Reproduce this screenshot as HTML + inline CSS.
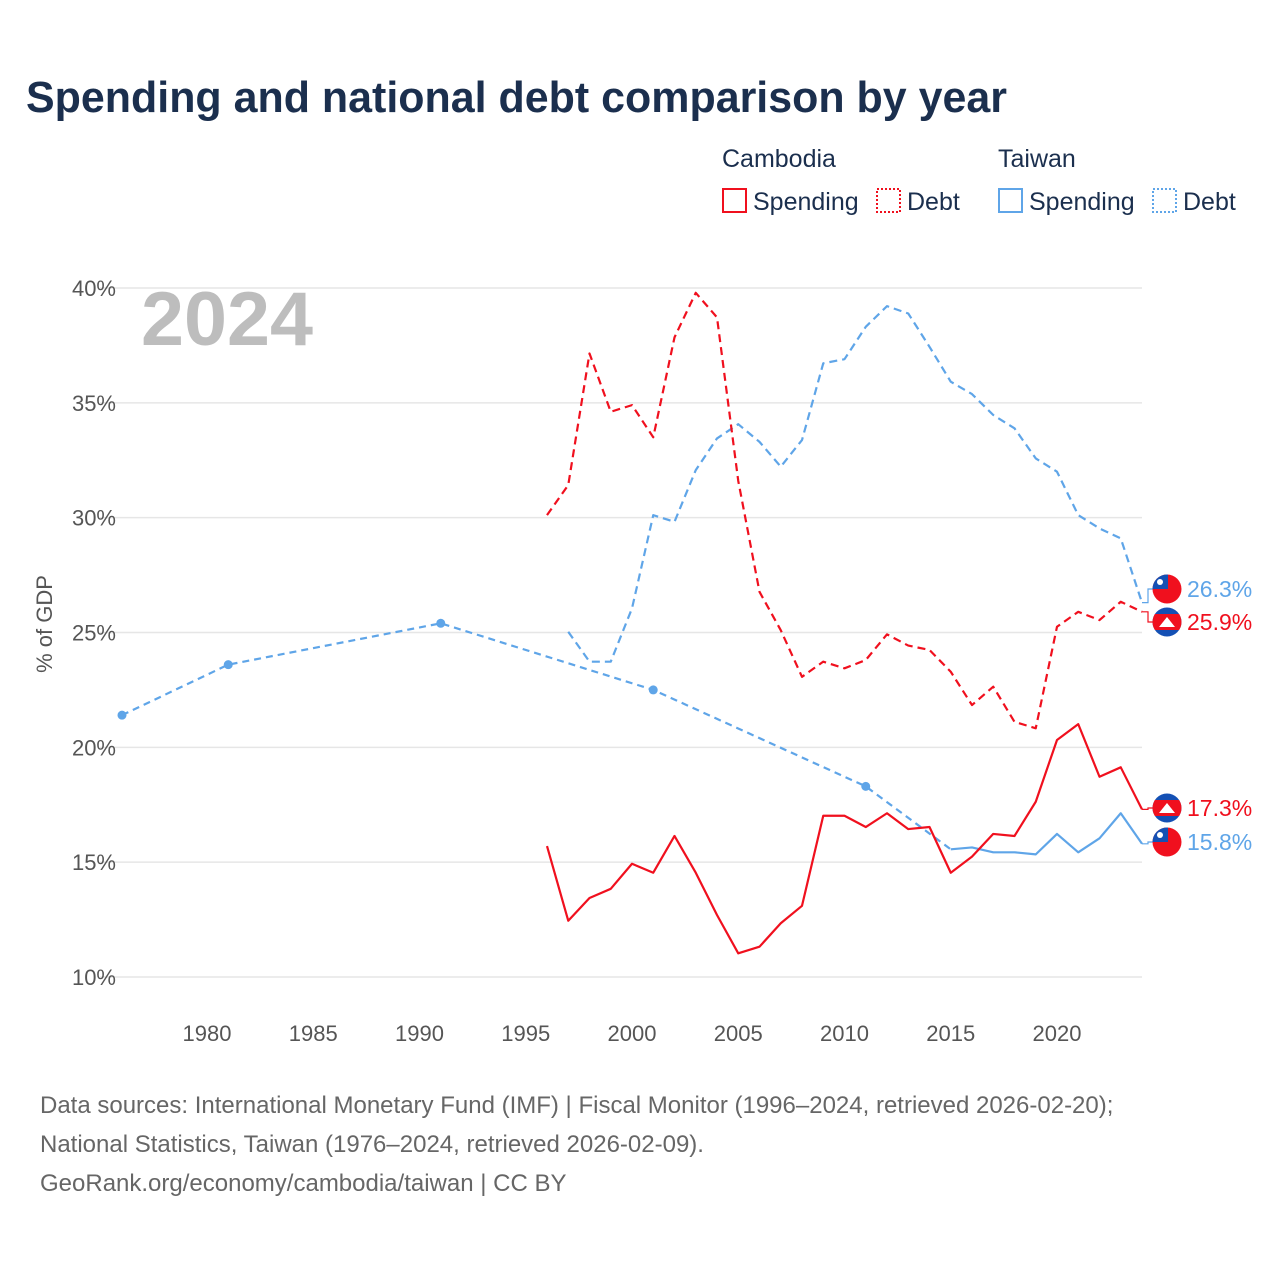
<!DOCTYPE html>
<html><head><meta charset="utf-8"><style>
body{margin:0;background:#fff;font-family:"Liberation Sans",sans-serif;}
svg text{font-family:"Liberation Sans",sans-serif;}
</style></head><body>
<svg id="c" width="1280" height="1280" viewBox="0 0 1280 1280" xmlns="http://www.w3.org/2000/svg">
<rect width="1280" height="1280" fill="#fff"/>
<text x="26" y="112" font-size="44" font-weight="bold" fill="#1b2f4e" textLength="981" lengthAdjust="spacingAndGlyphs">Spending and national debt comparison by year</text>
<g font-size="25" fill="#1b2f4e">
<text x="722" y="167">Cambodia</text>
<text x="998" y="167">Taiwan</text>
<g><rect x="723" y="189" width="23" height="23" fill="none" stroke="#f0101e" stroke-width="2"/><text x="753" y="210">Spending</text></g>
<g><rect x="877" y="189" width="23" height="23" fill="none" stroke="#f0101e" stroke-width="2" stroke-dasharray="2,2"/><text x="907" y="210">Debt</text></g>
<g><rect x="999" y="189" width="23" height="23" fill="none" stroke="#5fa5e8" stroke-width="2"/><text x="1029" y="210">Spending</text></g>
<g><rect x="1153" y="189" width="23" height="23" fill="none" stroke="#5fa5e8" stroke-width="2" stroke-dasharray="2,2"/><text x="1183" y="210">Debt</text></g>
</g>
<text x="141" y="345" font-size="76" font-weight="bold" fill="#bdbdbd" textLength="172" lengthAdjust="spacingAndGlyphs">2024</text>
<text transform="translate(52,624) rotate(-90)" text-anchor="middle" font-size="22" fill="#555">% of GDP</text>
<g id="grid"></g><g id="series"></g><g id="ends"></g>
<g font-size="24" fill="#666">
<text x="40" y="1113">Data sources: International Monetary Fund (IMF) | Fiscal Monitor (1996–2024, retrieved 2026-02-20);</text>
<text x="40" y="1152">National Statistics, Taiwan (1976–2024, retrieved 2026-02-09).</text>
<text x="40" y="1191">GeoRank.org/economy/cambodia/taiwan | CC BY</text>
</g>
</svg>
<script>
const yTicks=[10,15,20,25,30,35,40];
const xTicks=[1980,1985,1990,1995,2000,2005,2010,2015,2020];
const khYears=[1996,1997,1998,1999,2000,2001,2002,2003,2004,2005,2006,2007,2008,2009,2010,2011,2012,2013,2014,2015,2016,2017,2018,2019,2020,2021,2022,2023,2024];
const khSpending=[15.7,12.45,13.44,13.84,14.93,14.54,16.14,14.54,12.7,11.03,11.32,12.34,13.1,17.02,17.02,16.53,17.13,16.44,16.53,14.54,15.24,16.23,16.14,17.63,20.32,21.01,18.72,19.13,17.3];
const khDebt=[30.11,31.42,37.15,34.61,34.9,33.5,37.85,39.79,38.72,31.6,26.77,25.1,23.07,23.73,23.44,23.8,24.92,24.43,24.24,23.29,21.84,22.64,21.11,20.83,25.25,25.9,25.54,26.34,25.9];
const twDebtYears=[1997,1998,1999,2000,2001,2002,2003,2004,2005,2006,2007,2008,2009,2010,2011,2012,2013,2014,2015,2016,2017,2018,2019,2020,2021,2022,2023,2024];
const twDebt=[25.03,23.73,23.73,26.05,30.11,29.82,32.07,33.45,34.07,33.3,32.22,33.38,36.72,36.9,38.31,39.21,38.89,37.44,35.92,35.38,34.47,33.89,32.58,32.0,30.11,29.53,29.1,26.3];
const twSparseYears=[1976,1981,1991,2001,2011,2015];
const twSparse=[21.4,23.6,25.4,22.5,18.3,15.56];
const twSpendYears=[2015,2016,2017,2018,2019,2020,2021,2022,2023,2024];
const twSpending=[15.56,15.64,15.43,15.43,15.34,16.23,15.43,16.04,17.13,15.8];
const RED='#f0101e',BLUE='#5fa5e8',NS='http://www.w3.org/2000/svg';
const X=y=>122+(y-1976)*21.25, Y=v=>977-(v-10)*22.967;
function mk(t,a,p){const e=document.createElementNS(NS,t);for(const k in a)e.setAttribute(k,a[k]);p.appendChild(e);return e;}
const grid=document.getElementById('grid');
yTicks.forEach(v=>{
 const l=mk('line',{x1:100,x2:1142,y1:Y(v),y2:Y(v),stroke:'#e6e6e6','stroke-width':1.5},grid);
 
 
 const t=mk('text',{x:116,y:Y(v)+8,'text-anchor':'end','font-size':22,fill:'#555'},grid);t.textContent=v+'%';
 
 
});
xTicks.forEach(y=>{
 const t=mk('text',{x:X(y),y:1041,'text-anchor':'middle','font-size':22,fill:'#555'},grid);t.textContent=y;
 
 
});
const S=document.getElementById('series');
function line(xs,vs,col,dash,name,w){
 const p=mk('polyline',{points:xs.map((x,i)=>X(x)+','+Y(vs[i])).join(' '),fill:'none',stroke:col,'stroke-width':w||2.2,'stroke-dasharray':dash||'none','stroke-linejoin':'round'},S);
 
 
}
line(twSparseYears,twSparse,BLUE,'7,5','taiwan-spending-interpolated',2.2);
twSparseYears.slice(0,-1).forEach((y,i)=>{
 const c=mk('circle',{cx:X(y),cy:Y(twSparse[i]),r:4.5,fill:BLUE},S);
 
 
});
line(twDebtYears,twDebt,BLUE,'8,5','taiwan-debt-line');
line(twSpendYears,twSpending,BLUE,'','taiwan-spending-line');
line(khYears,khDebt,RED,'8,5','cambodia-debt-line');
line(khYears,khSpending,RED,'','cambodia-spending-line');
const E=document.getElementById('ends');
function flag(cy,tw){
 const g=mk('g',{},E);
 
 
 const id='cp'+Math.round(cy);
 const cp=mk('clipPath',{id:id},g);mk('circle',{cx:1167,cy:cy,r:14.5},cp);
 const q=mk('g',{'clip-path':'url(#'+id+')'},g);
 if(tw){mk('rect',{x:1150,y:cy-16,width:34,height:32,fill:'#f0101e'},q);mk('rect',{x:1150,y:cy-16,width:18,height:16,fill:'#1450b4'},q);mk('circle',{cx:1160,cy:cy-7,r:3,fill:'#fff'},q);}
 else{mk('rect',{x:1150,y:cy-16,width:34,height:32,fill:'#1450b4'},q);mk('rect',{x:1150,y:cy-8,width:34,height:16,fill:'#f0101e'},q);mk('polygon',{points:`${1159},${cy+5} ${1167},${cy-5} ${1175},${cy+5}`,fill:'#fff'},q);}
}
function endLabel(v,ly,col,tw,name){
 mk('polyline',{points:`${X(2024)},${Y(v)} 1148,${Y(v)} 1148,${ly} 1153,${ly}`,fill:'none',stroke:col,'stroke-width':1.2},E);
 flag(ly,tw);
 const t=mk('text',{x:1187,y:ly+8,'font-size':23,fill:col},E);t.textContent=v.toFixed(1)+'%';
 
 
}
endLabel(twDebt[twDebt.length-1],589,BLUE,true,'taiwan-debt-end-label');
endLabel(khDebt[khDebt.length-1],622,RED,false,'cambodia-debt-end-label');
endLabel(khSpending[khSpending.length-1],808,RED,false,'cambodia-spending-end-label');
endLabel(twSpending[twSpending.length-1],842,BLUE,true,'taiwan-spending-end-label');
</script>
</body></html>
